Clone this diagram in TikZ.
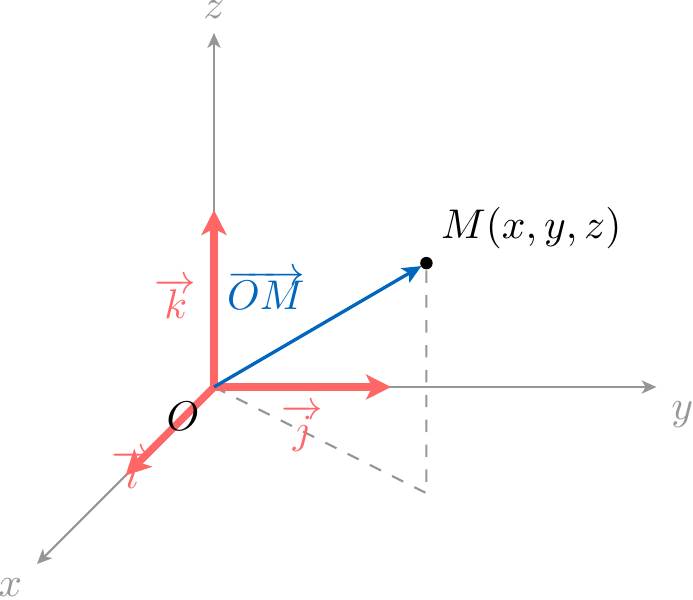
\documentclass[tikz,border=0pt]{standalone}
\usetikzlibrary{arrows.meta}
\definecolor{vred}{RGB}{255,102,102}
\definecolor{vblue}{RGB}{0,102,190}
\definecolor{axgray}{RGB}{150,150,150}
\begin{document}
\begin{tikzpicture}[x={(-0.75cm,-0.75cm)}, y={(1.5cm,0cm)}, z={(0cm,1.5cm)},
  axis/.style={axgray, line width=0.5pt, -{Stealth[length=3.6pt,width=3.2pt,inset=1pt]}},
  unitvec/.style={vred, line width=1.8pt, -{Stealth[length=6pt,width=6pt,inset=1.5pt]}},
  guide/.style={axgray, dashed, line width=0.5pt},
  axlabel/.style={text=axgray},
  veclabel/.style={text=vred}]
\useasboundingbox (-1.8136cm,-1.797cm) rectangle (4.059cm,3.280cm);
\coordinate (O) at (0,0,0);
\coordinate (X) at (2,0,0);
\coordinate (Y) at (0,2.5,0);
\coordinate (Z) at (0,0,2);
\coordinate (I) at (1,0,0);
\coordinate (J) at (0,1,0);
\coordinate (K) at (0,0,1);
\coordinate (M) at (1.2,1.8,1.3);
\coordinate (P) at (1.2,1.8,0);
% axes
\draw[axis] (O) -- (X) node[below left, axlabel] (xl) {$x$};
\draw[axis] (O) -- (Y) node[below right, axlabel] (yl) {$y$};
\draw[axis] (O) -- (Z) node[above, axlabel] (zl) {$z$};
% guides
\draw[guide] (O) -- (P) -- (M);
% i label (drawn under the vector)
\node[veclabel] (il) at (-0.696cm,-0.70cm) {$\overrightarrow{i}$};
% unit vectors
\draw[unitvec] (O) -- (I);
\draw[unitvec] (O) -- (J) node[midway, below, veclabel] (jl) {$\overrightarrow{j}$};
\draw[unitvec] (O) -- (K) node[midway, left, veclabel] (kl) {$\overrightarrow{k}$};
% OM
\draw[vblue, line width=0.8pt, -{Stealth[length=4.5pt,width=4pt,inset=1pt]}, shorten >=1.4pt]
  (O) -- (M) node[midway, above left, text=vblue] (oml) {$\overrightarrow{OM}$};
\fill (M) circle (1.5pt);
\node[above right] (ml) at (M) {$M(x,y,z)$};
\node[below left] (ol) at (O) {$O$};
\end{tikzpicture}
\end{document}
